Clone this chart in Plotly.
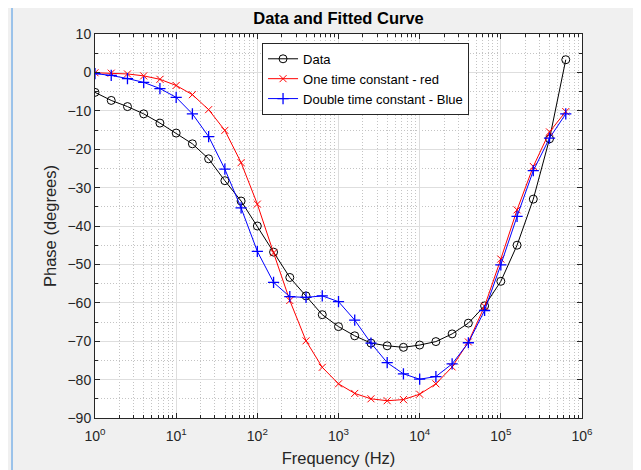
import numpy as np
import plotly.graph_objects as go

# frequencies: 5 points per decade, 10^0 .. 10^5.8
exponents = [i / 5 for i in range(30)]
freq = [10 ** e for e in exponents]

data_phase = [-5.2, -7.3, -8.9, -10.8, -13.2, -15.8, -18.6, -22.5, -28.2, -33.5,
              -40.0, -46.8, -53.4, -58.2, -63.1, -66.2, -68.6, -70.5, -71.2, -71.6,
              -71.0, -70.1, -68.1, -65.3, -60.8, -54.4, -45.0, -33.0, -17.3, 3.3]
one_tc = [-0.1, -0.2, -0.4, -0.9, -1.8, -3.4, -5.8, -9.7, -15.1, -23.5,
          -34.3, -47.0, -59.4, -69.9, -76.8, -81.1, -83.6, -85.0, -85.5, -85.2,
          -83.8, -81.1, -76.7, -70.2, -60.9, -48.6, -35.8, -24.5, -15.5, -10.2]
two_tc = [-0.3, -0.8, -1.6, -2.6, -4.2, -6.5, -10.8, -16.7, -25.2, -35.3,
          -46.6, -54.7, -58.4, -58.6, -58.2, -59.7, -64.5, -70.5, -75.6, -78.5,
          -79.9, -79.2, -75.9, -70.4, -62.0, -50.1, -37.5, -25.6, -17.1, -10.8]

names = ["Data", "One time constant - red", "Double time constant - Blue"]
x_tickvals = [1, 10, 100, 1000, 10000, 100000, 1000000]
x_ticktext = ["10<sup>%d</sup>" % k for k in range(7)]
x_minorvals = [m * 10 ** k for k in range(6) for m in range(2, 10)]
y_tickvals = list(range(-90, 11, 10))

FONT = "Liberation Sans, Arial"

fig = go.Figure()
fig.add_trace(go.Scatter(x=freq, y=data_phase, name=names[0], mode="lines+markers",
                         line=dict(color="black", width=1),
                         marker=dict(symbol="circle-open", size=8, color="black", line=dict(width=1))))
fig.add_trace(go.Scatter(x=freq, y=one_tc, name=names[1], mode="lines+markers",
                         line=dict(color="#ff0000", width=1),
                         marker=dict(symbol="x-thin-open", size=7, color="#ff0000", line=dict(width=1, color="#ff0000"))))
fig.add_trace(go.Scatter(x=freq, y=two_tc, name=names[2], mode="lines+markers",
                         line=dict(color="#0000ff", width=1),
                         marker=dict(symbol="cross-thin-open", size=8, color="#0000ff", line=dict(width=1.3, color="#0000ff"))))

axis_common = dict(showline=True, linecolor="#262626", linewidth=1, mirror="allticks",
                   ticks="inside", ticklen=5, tickcolor="#262626", automargin=False,
                   showgrid=True, gridcolor="#dedede", gridwidth=1, zeroline=False,
                   tickfont=dict(family=FONT, size=14, color="#262626"))
minor_common = dict(ticks="inside", ticklen=3, tickcolor="#262626", showgrid=True,
                    gridcolor="#c4c4c4", griddash="1px,2px", gridwidth=1)

fig.update_xaxes(type="log", range=[0, 6], tickvals=x_tickvals, ticktext=x_ticktext,
                 ticklabelstandoff=5,
                 minor=dict(tickvals=x_minorvals, **minor_common),
                 title=dict(text="Frequency (Hz)", font=dict(family=FONT, size=16.5, color="#262626"),
                            standoff=9),
                 **axis_common)
fig.update_yaxes(range=[-90, 10], tickvals=y_tickvals,
                 minor=dict(dtick=5, **minor_common),
                 title=dict(text="Phase (degrees)", font=dict(family=FONT, size=16.5, color="#262626"),
                            standoff=6),
                 **axis_common)

fig.update_layout(
    width=641, height=470,
    margin=dict(l=87, r=67, t=26, b=60, autoexpand=False),
    paper_bgcolor="#f0f0f0", plot_bgcolor="white",
    title=dict(text="<b>Data and Fitted Curve</b>", x=0.5156, xanchor="center", y=0.978, yanchor="middle",
               font=dict(family=FONT, size=16.5, color="black")),
    showlegend=True,
    legend=dict(x=0.343, y=0.977, xanchor="left", yanchor="top",
                bgcolor="white", bordercolor="#262626", borderwidth=1,
                font=dict(family=FONT, size=13, color="black"),
                tracegroupgap=0, itemwidth=30),
    shapes=[dict(type="line", xref="paper", yref="paper", x0=-0.1704, x1=-0.1704, y0=-0.16, y1=1.08,
                 line=dict(color="#7fb3e8", width=1.5))],
)

fig.write_html("out.html")
